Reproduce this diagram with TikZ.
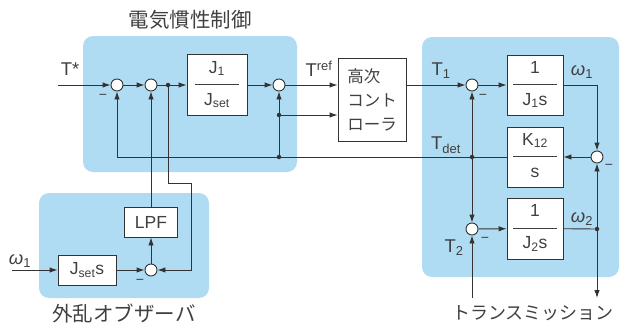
\documentclass[tikz,border=0pt]{standalone}
\usepackage{fontspec}
\setmainfont{Liberation Sans}
\newfontfamily\jp{Noto Sans CJK JP}
\usetikzlibrary{arrows.meta}

% frazione dentro un blocco
\newcommand{\frz}[2]{\begin{tabular}{@{}c@{}}#1\\[-3pt]\rule[5pt]{44pt}{0.8pt}\\[-5pt]#2\end{tabular}}

\begin{document}
\begin{tikzpicture}[x=1pt,y=-1pt,
  blocco/.style={draw=lineDark, fill=white, line width=0.9pt, minimum width=56pt,
    minimum height=60pt, inner sep=0pt, align=center, text=colTesto,
    font=\fontsize{17.5}{20}\selectfont},
  somma/.style={circle, draw=lineDark, fill=white, line width=0.9pt, minimum size=12pt, inner sep=0pt},
  punto/.style={circle, fill=lineDark, minimum size=4.5pt, inner sep=0pt},
  linea/.style={lineDark, line width=0.9pt},
  freccia/.style={linea, -{Latex[length=8pt,width=5.5pt]}},
  zona/.style={fill=colZona, rounded corners=10pt},
  etich/.style={text=colTesto, font=\fontsize{18.5}{18}\selectfont, inner sep=0pt},
  meno/.style={text=colTesto, font=\fontsize{14}{14}\selectfont, inner sep=0pt},
  titolo/.style={text=colTesto, font=\jp\fontsize{20.5}{20}\selectfont, inner sep=0pt}]

% Colori
\definecolor{colZona}{HTML}{B0DCF3}
\definecolor{lineDark}{HTML}{333333}
\definecolor{colTesto}{HTML}{404040}

\useasboundingbox (0,0) rectangle (622,327);

% Zone colorate
\fill[zona] (83,36) rectangle (297,172);
\fill[zona] (39,193) rectangle (209,298);
\fill[zona] (422,37) rectangle (619,277);

% Titoli
\node[titolo] (tEic) at (190,20) {電気慣性制御};
\node[titolo] (tOss) at (124,314) {外乱オブザーバ};
\node[titolo, font=\jp\fontsize{18}{18}\selectfont] (tTra) at (533,313) {トランスミッション};

% Controllo di inerzia elettrica
\coordinate (ingT) at (58,85);
\node[somma] (s1) at (117,85) {};
\node[somma] (s2) at (151,85) {};
\node[punto] (d1) at (168,85) {};
\node[blocco, minimum width=60pt, minimum height=61pt] (gJ) at (217,85)
  {\frz{J\textsubscript{1}}{J\textsubscript{set}}};
\node[somma] (s3) at (279,85) {};
\node[punto] (d2) at (279,115) {};
\node[punto] (d3) at (279,157) {};
\node[blocco, minimum width=68pt, minimum height=83pt, align=left,
  font=\jp\fontsize{16.5}{24}\selectfont] (hc) at (372,99.5) {高次\\コント\\ローラ};

% Trasmissione
\node[somma] (s4) at (472,85) {};
\node[blocco] (g1) at (535,85) {\frz{1}{J\textsubscript{1}s}};
\node[somma] (s5) at (597,157) {};
\node[blocco] (gk) at (535,157) {\frz{K\textsubscript{12}}{s}};
\node[punto] (d4) at (472,157) {};
\node[somma] (s6) at (472,229) {};
\node[blocco, minimum height=61pt] (g2) at (535,228.5) {\frz{1}{J\textsubscript{2}s}};
\node[punto] (d5) at (597,229) {};
\coordinate (ingT2) at (472,298);
\coordinate (uscita) at (597,298);

% Osservatore di disturbo
\coordinate (ingW) at (12,270);
\node[blocco, minimum width=58pt, minimum height=30pt] (gs) at (87,270) {J\textsubscript{set}s};
\node[somma] (s7) at (151,270) {};
\node[blocco, minimum width=53pt, minimum height=30pt] (lpf) at (151,222) {LPF};
\coordinate (ang) at (191,183);

% Collegamenti
\draw[freccia] (ingT) -- (s1);
\draw[freccia] (s1) -- (s2);
\draw[freccia] (s2) -- (gJ);
\draw[freccia] (gJ) -- (s3);
\draw[freccia] (s3) -- (hc.west |- s3);
\draw[freccia] (d2) -- (hc.west |- d2);
\draw[freccia] (d3) -- (s3);
\draw[freccia] (gk) -| (s1);
\draw[freccia] (hc.east |- s4) -- (s4);
\draw[freccia] (s4) -- (g1);
\draw[freccia] (g1) -| (s5);
\draw[freccia] (s5) -- (gk);
\draw[freccia] (d4) -- (s4);
\draw[freccia] (d4) -- (s6);
\draw[freccia] (ingT2) -- (s6);
\draw[freccia] (s6) -- (g2);
\draw[linea] (g2) -- (d5);
\draw[freccia] (d5) -- (s5);
\draw[freccia] (d5) -- (uscita);
\draw[freccia] (ingW) -- (gs);
\draw[freccia] (gs) -- (s7);
\draw[freccia] (s7) -- (lpf);
\draw[freccia] (lpf) -- (s2);
\draw[freccia] (d1) |- (ang) |- (s7);

% Etichette
\node[etich] (lT) at (70,69) {T*};
\node[etich] (lTref) at (319,69) {T\textsuperscript{ref}};
\node[etich] (lT1) at (441,71) {T\textsubscript{1}};
\node[etich] (lw1) at (582,72) {{\itshape ω}\textsubscript{1}};
\node[etich] (lTdet) at (446,145) {T\textsubscript{det}};
\node[etich] (lT2) at (454,248) {T\textsubscript{2}};
\node[etich] (lw2) at (582,219) {{\itshape ω}\textsubscript{2}};
\node[etich] (lw1b) at (20,261) {{\itshape ω}\textsubscript{1}};

% Segni meno
\node[meno] (m1) at (103,97) {−};
\node[meno] (m4) at (483,97) {−};
\node[meno] (m5) at (609,167) {−};
\node[meno] (m6) at (485,240) {−};
\node[meno] (m7) at (140,282) {−};

\end{tikzpicture}
\end{document}
